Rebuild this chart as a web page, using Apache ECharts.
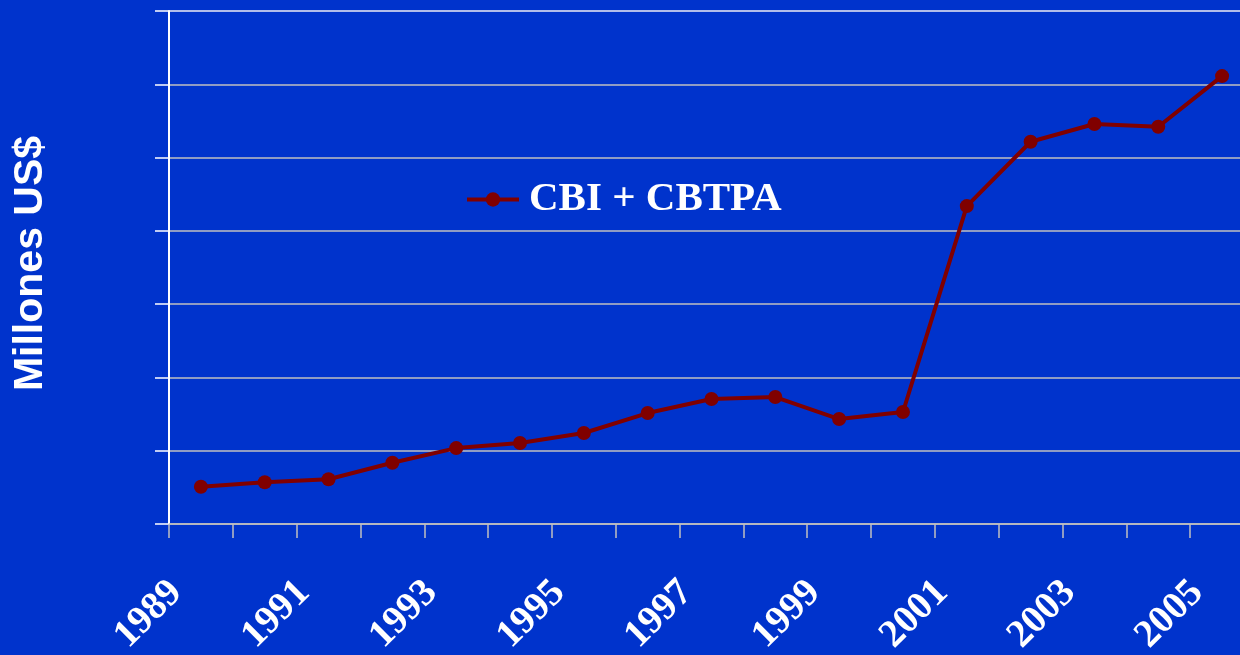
<!DOCTYPE html>
<html>
<head>
<meta charset="utf-8">
<script src="https://cdn.jsdelivr.net/npm/echarts@6/dist/echarts.min.js"></script>
<style>
html,body{margin:0;padding:0;background:#0033cc;overflow:hidden;width:1240px;height:655px;}
#chart{width:1254px;height:655px;}
</style>
</head>
<body>
<div id="chart"></div>
<script>
const years = ['1989','1990','1991','1992','1993','1994','1995','1996','1997','1998','1999','2000','2001','2002','2003','2004','2005'];
const seriesName = 'CBI + CBTPA';
const values = [254, 285, 305, 418, 518, 553, 621, 757, 853, 866, 716, 764, 2169, 2608, 2729, 2710, 3056];
const yAxisTitle = 'Millones US$';

const gridColors = ['#c0c0c0','#c0c0c0','#c0c0c0','#c0c0c0','#c0c0c0','#c0c0c0','#c0c0c0','#ececf4'];

const chart = echarts.init(document.getElementById('chart'), null, {renderer:'canvas'});
chart.setOption({
  backgroundColor: '#0033cc',
  animation: false,
  grid: {left: 169, right: 0, top: 11, bottom: 131, containLabel: false, outerBoundsMode: 'none'},
  legend: {
    show: true,
    left: 465,
    top: 179,
    padding: 0,
    itemWidth: 52,
    itemHeight: 18,
    itemGap: 10,
    data: [seriesName],
    lineStyle: {width: 4},
    textStyle: {color: '#ffffff', fontFamily: '"Liberation Serif", "Times New Roman", serif', fontWeight: 'bold', fontSize: 41, padding: [0,0,0,5]}
  },
  xAxis: {
    type: 'category',
    data: years,
    boundaryGap: true,
    axisLine: {show: true, lineStyle: {color: '#c0c0c0', width: 1.5}},
    axisTick: {show: true, interval: 0, length: 14, alignWithLabel: false, lineStyle: {color: '#c0c0c0', width: 1.5}},
    axisLabel: {
      interval: 1,
      rotate: 45,
      margin: 38,
      padding: [0, 35, 0, 0],
      color: '#ffffff',
      fontFamily: '"Liberation Serif", "Times New Roman", serif',
      fontWeight: 'bold',
      fontSize: 39
    },
    splitLine: {show: false}
  },
  yAxis: {
    type: 'value',
    min: 0,
    max: 3500,
    interval: 500,
    name: yAxisTitle,
    nameLocation: 'middle',
    nameGap: 118,
    nameRotate: 90,
    nameTextStyle: {color: '#ffffff', fontFamily: '"Liberation Sans", Arial, sans-serif', fontWeight: 'bold', fontSize: 41, padding: [0, 0, 0, 8]},
    axisLine: {show: true, lineStyle: {color: '#ffffff', width: 2}},
    axisTick: {show: true, inside: false, length: 14, lineStyle: {color: '#ffffff', width: 1.5}},
    axisLabel: {show: false},
    splitLine: {show: true, lineStyle: {color: gridColors, width: 1.5}}
  },
  series: [{
    name: seriesName,
    type: 'line',
    data: values,
    symbol: 'circle',
    symbolSize: 14,
    lineStyle: {color: '#800000', width: 4},
    itemStyle: {color: '#800000'}
  }]
});
</script>
</body>
</html>
